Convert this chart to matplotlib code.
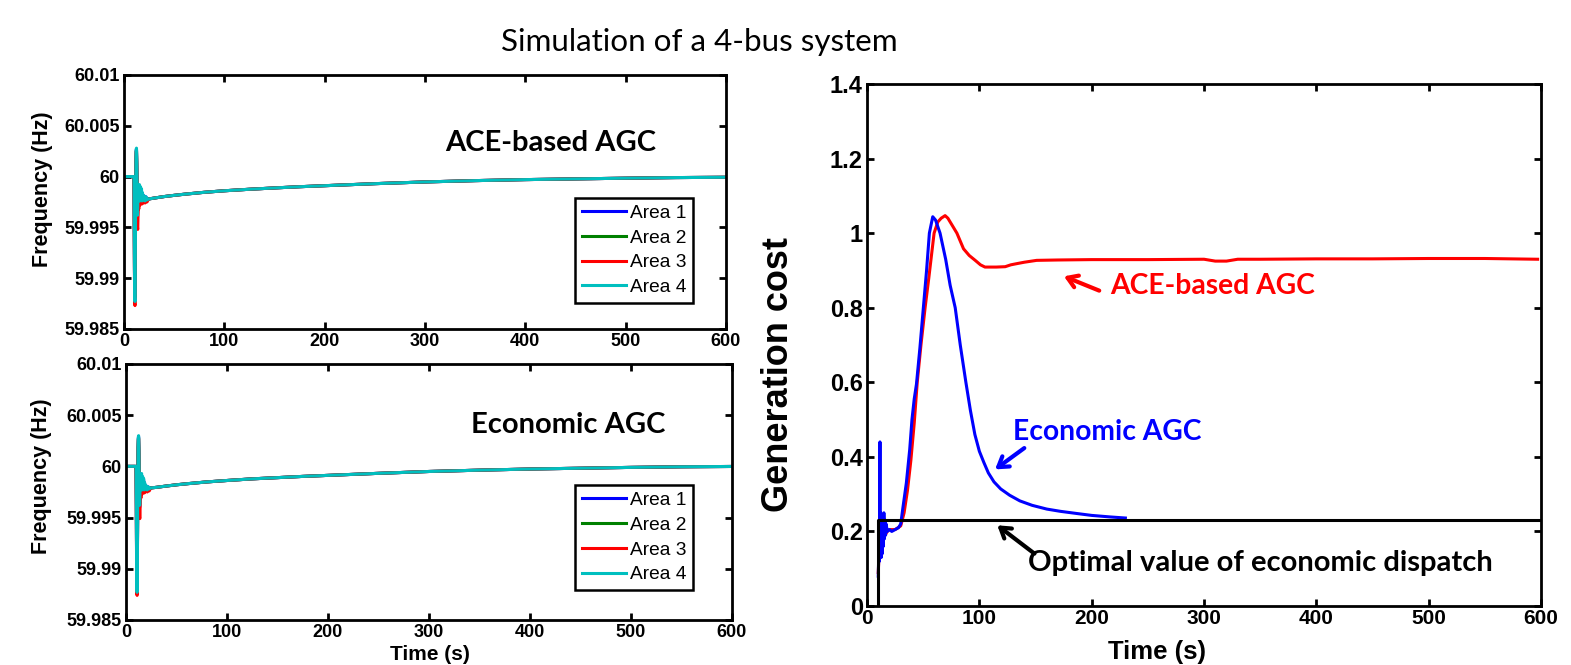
import matplotlib
matplotlib.use("Agg")
import matplotlib.pyplot as plt

plt.rcParams['font.family'] = ['Liberation Sans', 'DejaVu Sans']
plt.rcParams['font.weight'] = 'bold'

# ---- frequency data (left panels) ----
area_names = ['Area 1', 'Area 2', 'Area 3', 'Area 4']
area_colors = ['#0000ff', '#008000', '#ff0000', '#00bfbf']

t_tr = [0, 9.5, 10.0, 10.25, 10.5, 10.75, 11.0, 11.25, 11.5, 11.75, 12.0, 12.25, 12.5, 12.75,
        13.0, 13.25, 13.5, 13.75, 14.0, 14.25, 14.5, 14.75, 15.0, 15.5, 16.0, 16.5, 17.0,
        17.5, 18.0, 18.5, 19.0, 20.0, 21.0, 22.0, 23.0, 24.0]
t_tail = [25, 30, 40, 50, 60, 80, 100, 125, 150, 175, 200, 250, 300, 350, 400, 450, 500, 550, 600]

# ACE-based AGC
ace_tr = {
    'Area 1': [60.0, 60.0, 59.9998, 59.9960, 59.9905, 59.9880, 59.9878, 59.9905, 59.9950, 59.9990,
               60.0015, 60.0026, 60.0027, 60.0015, 59.9995, 59.9975, 59.9960, 59.9968, 59.9985,
               59.9992, 59.9982, 59.9974, 59.9986, 59.9990, 59.9976, 59.9988, 59.9978, 59.9986,
               59.9976, 59.9983, 59.9977, 59.9981, 59.9976, 59.9980, 59.9977, 59.9978],
    'Area 2': [60.0, 60.0, 59.9998, 59.9962, 59.9908, 59.9882, 59.9880, 59.9908, 59.9952, 59.9991,
               60.0016, 60.0025, 60.0026, 60.0014, 59.9994, 59.9974, 59.9962, 59.9969, 59.9984,
               59.9991, 59.9981, 59.9975, 59.9985, 59.9989, 59.9977, 59.9987, 59.9979, 59.9985,
               59.9977, 59.9982, 59.9977, 59.9980, 59.9977, 59.9979, 59.9977, 59.9978],
    'Area 3': [60.0, 60.0, 59.9997, 59.9955, 59.9900, 59.9876, 59.9873, 59.9900, 59.9945, 59.9985,
               60.0012, 60.0024, 60.0025, 60.0010, 59.9985, 59.9962, 59.9950, 59.9948, 59.9960,
               59.9975, 59.9978, 59.9968, 59.9975, 59.9984, 59.9972, 59.9982, 59.9974, 59.9980,
               59.9973, 59.9978, 59.9974, 59.9977, 59.9974, 59.9976, 59.9975, 59.9977],
    'Area 4': [60.0, 60.0, 59.9998, 59.9962, 59.9910, 59.9882, 59.9877, 59.9902, 59.9948, 59.9992,
               60.0018, 60.0027, 60.0028, 60.0016, 59.9996, 59.9976, 59.9962, 59.9970, 59.9992,
               59.9990, 59.9980, 59.9976, 59.9991, 59.9992, 59.9976, 59.9990, 59.9979, 59.9988,
               59.9976, 59.9984, 59.9977, 59.9981, 59.9976, 59.9980, 59.9977, 59.9978],
}
ace_tail = [59.99780, 59.99788, 59.99803, 59.99815, 59.99826, 59.99845, 59.99860, 59.99875,
            59.99888, 59.99900, 59.99910, 59.99930, 59.99947, 59.99960, 59.99970, 59.99977,
            59.99984, 59.99990, 59.99993]

# Economic AGC
eco_tr = {
    'Area 1': [60.0, 60.0, 59.9998, 59.9960, 59.9905, 59.9880, 59.9878, 59.9905, 59.9950, 59.9992,
               60.0018, 60.0028, 60.0029, 60.0017, 59.9996, 59.9975, 59.9960, 59.9968, 59.9985,
               59.9993, 59.9983, 59.9975, 59.9986, 59.9991, 59.9977, 59.9988, 59.9978, 59.9986,
               59.9977, 59.9983, 59.9978, 59.9981, 59.9977, 59.9980, 59.9978, 59.9979],
    'Area 2': [60.0, 60.0, 59.9998, 59.9962, 59.9908, 59.9882, 59.9880, 59.9908, 59.9952, 59.9993,
               60.0019, 60.0027, 60.0028, 60.0016, 59.9995, 59.9974, 59.9962, 59.9969, 59.9984,
               59.9992, 59.9982, 59.9976, 59.9985, 59.9990, 59.9978, 59.9987, 59.9979, 59.9985,
               59.9978, 59.9982, 59.9978, 59.9980, 59.9978, 59.9979, 59.9978, 59.9979],
    'Area 3': [60.0, 60.0, 59.9997, 59.9955, 59.9900, 59.9876, 59.9874, 59.9900, 59.9945, 59.9987,
               60.0014, 60.0026, 60.0027, 60.0012, 59.9986, 59.9962, 59.9950, 59.9949, 59.9961,
               59.9976, 59.9979, 59.9969, 59.9976, 59.9985, 59.9973, 59.9983, 59.9975, 59.9981,
               59.9974, 59.9979, 59.9975, 59.9978, 59.9975, 59.9977, 59.9976, 59.9978],
    'Area 4': [60.0, 60.0, 59.9998, 59.9962, 59.9910, 59.9882, 59.9877, 59.9902, 59.9950, 59.9994,
               60.0020, 60.0029, 60.0030, 60.0018, 59.9997, 59.9977, 59.9962, 59.9970, 59.9992,
               59.9991, 59.9981, 59.9977, 59.9992, 59.9993, 59.9977, 59.9990, 59.9980, 59.9988,
               59.9977, 59.9984, 59.9978, 59.9981, 59.9977, 59.9980, 59.9978, 59.9979],
}
eco_tail = [59.99790, 59.99795, 59.99808, 59.99820, 59.99830, 59.99848, 59.99862, 59.99878,
            59.99890, 59.99902, 59.99912, 59.99932, 59.99950, 59.99963, 59.99974, 59.99982,
            59.99990, 59.99996, 59.99999]

freq_ticks = [59.985, 59.99, 59.995, 60, 60.005, 60.01]
freq_ticklabels = ['59.985', '59.99', '59.995', '60', '60.005', '60.01']
time_ticks = [0, 100, 200, 300, 400, 500, 600]

# ---- generation cost data (right panel) ----
t_eco = [10.0, 10.5, 11.0, 11.5, 11.8, 12.2, 12.6, 13.0, 13.5, 14.0, 14.5, 15.0, 15.5, 16.0,
         16.5, 17.0, 18.0, 20.0, 22.0, 25.0, 28.0, 30.0, 32.0, 35.0, 38.0, 40.0, 42.0, 44.0,
         47.0, 50.0, 53.0, 55.5, 58.5, 61.0, 65.0, 70.0, 74.0, 78.5, 83.0, 88.0, 92.0, 96.0,
         100.0, 104.0, 108.0, 113.0, 119.0, 127.0, 136.0, 147.0, 160.0, 172.0, 187.0, 200.0,
         216.0, 230.0]
cost_eco = [0.08, 0.15, 0.12, 0.44, 0.15, 0.25, 0.13, 0.24, 0.14, 0.23, 0.16, 0.25, 0.18, 0.23,
            0.19, 0.22, 0.20, 0.205, 0.20, 0.205, 0.21, 0.22, 0.265, 0.33, 0.42, 0.50, 0.555,
            0.595, 0.69, 0.795, 0.90, 1.00, 1.044, 1.035, 1.00, 0.93, 0.86, 0.80, 0.70, 0.60,
            0.525, 0.46, 0.415, 0.385, 0.357, 0.333, 0.314, 0.297, 0.282, 0.270, 0.260, 0.254,
            0.248, 0.243, 0.239, 0.236]

t_ace = [10, 11, 12, 13, 14, 16, 18, 20, 25, 30, 33, 36, 39, 42, 44.7, 48, 51.7, 55, 59.7,
         63, 66, 69.5, 72, 75, 80, 85.9, 91, 96.3, 101, 105, 115, 123, 128, 133, 140, 151, 170,
         200, 250, 300, 310, 320, 330, 350, 400, 450, 500, 550, 597]
cost_ace = [0.09, 0.16, 0.20, 0.17, 0.21, 0.19, 0.20, 0.205, 0.205, 0.215, 0.25, 0.31, 0.39,
            0.49, 0.60, 0.70, 0.80, 0.88, 1.00, 1.03, 1.04, 1.047, 1.04, 1.025, 1.00, 0.958,
            0.94, 0.927, 0.915, 0.909, 0.909, 0.91, 0.915, 0.918, 0.922, 0.927, 0.928, 0.929,
            0.929, 0.93, 0.925, 0.925, 0.93, 0.93, 0.931, 0.931, 0.932, 0.932, 0.93]

t_opt = [10, 10, 600]
cost_opt = [0, 0.232, 0.232]


def style_axes(ax, size):
    ax.tick_params(direction='in', top=True, right=True, length=5, width=2, labelsize=size, pad=3)
    for s in ax.spines.values():
        s.set_linewidth(2)
    for lab in ax.get_xticklabels() + ax.get_yticklabels():
        lab.set_fontweight('bold')


fig = plt.figure(figsize=(15.71, 6.65), dpi=100)

ax1 = fig.add_axes([0.0789, 0.5053, 0.3832, 0.3820])
ax2 = fig.add_axes([0.0802, 0.0677, 0.3857, 0.3850])
ax3 = fig.add_axes([0.5519, 0.0887, 0.4290, 0.7850])

for ax, tr, tail, label, lx, ly, leg_anchor, lab_pos in [
        (ax1, ace_tr, ace_tail, 'ACE-based AGC', 425, 60.0033, (0.945, 0.516), (-0.118, 0.55)),
        (ax2, eco_tr, eco_tail, 'Economic AGC', 438, 60.0040, (0.936, 0.527), (-0.122, 0.56))]:
    for name, col in zip(area_names, area_colors):
        ax.plot(t_tr + t_tail, tr[name] + tail, color=col, lw=2.2, label=name)
    ax.set_xlim(0, 600)
    ax.set_ylim(59.985, 60.01)
    ax.set_xticks(time_ticks)
    ax.set_yticks(freq_ticks)
    ax.set_yticklabels(freq_ticklabels)
    style_axes(ax, 13)
    ax.set_ylabel('Frequency (Hz)', fontsize=15.5, fontweight='bold')
    ax.yaxis.set_label_coords(*lab_pos)
    ax.text(lx, ly, label, fontsize=21, fontweight='bold', family='Lato', ha='center', va='center')
    leg = ax.legend(loc='upper right', bbox_to_anchor=leg_anchor, fontsize=13.8, frameon=True,
                    fancybox=False, framealpha=1, edgecolor='black', borderaxespad=0,
                    labelspacing=0.38, handlelength=2.3, handletextpad=0.2, borderpad=0.35)
    leg.get_frame().set_linewidth(1.8)
    for txt in leg.get_texts():
        txt.set_fontweight('normal')

fig.text(430 / 1571, 1 - 655 / 665, 'Time (s)', fontsize=15, fontweight='bold',
         ha='center', va='center')

# right panel
ax3.plot(t_ace, cost_ace, color='#ff0000', lw=2.2)
ax3.plot(t_eco, cost_eco, color='#0000ff', lw=2.2)
ax3.plot(t_opt, cost_opt, color='black', lw=2.2)
ax3.set_xlim(0, 600)
ax3.set_ylim(0, 1.4)
ax3.set_xticks(time_ticks)
ax3.set_yticks([0, 0.2, 0.4, 0.6, 0.8, 1.0, 1.2, 1.4])
ax3.set_yticklabels(['0', '0.2', '0.4', '0.6', '0.8', '1', '1.2', '1.4'])
style_axes(ax3, 17)
ax3.tick_params(axis='x', labelsize=15, pad=2)
ax3.set_ylabel('Generation cost', fontsize=26, fontweight='bold')
ax3.yaxis.set_label_coords(-0.105, 0.443)

arrow = dict(arrowstyle='->,head_length=0.7,head_width=0.45', lw=3)
ax3.annotate('', xy=(173, 0.887), xytext=(209, 0.843), arrowprops=dict(arrow, color='#ff0000'))
ax3.text(216, 0.857, 'ACE-based AGC', color='#ff0000', fontsize=20.3, fontweight='bold',
         family='Lato', ha='left', va='center')
ax3.annotate('', xy=(112, 0.362), xytext=(142, 0.428), arrowprops=dict(arrow, color='#0000ff'))
ax3.text(130, 0.468, 'Economic AGC', color='#0000ff', fontsize=20.3, fontweight='bold',
         family='Lato', ha='left', va='center')
ax3.annotate('', xy=(114, 0.221), xytext=(151, 0.136), arrowprops=dict(arrow, color='black'))
ax3.text(143, 0.115, 'Optimal value of economic dispatch', color='black', fontsize=21,
         fontweight='bold', family='Lato', ha='left', va='center')

fig.text(1157 / 1571, 1 / 665, 'Time (s)', fontsize=18.5, fontweight='bold',
         ha='center', va='bottom')

fig.text(699 / 1571, 1 - 42 / 665, 'Simulation of a 4-bus system', fontsize=22.6,
         fontweight='normal', family='Lato', ha='center', va='center')

fig.savefig('out.png', dpi=100)
